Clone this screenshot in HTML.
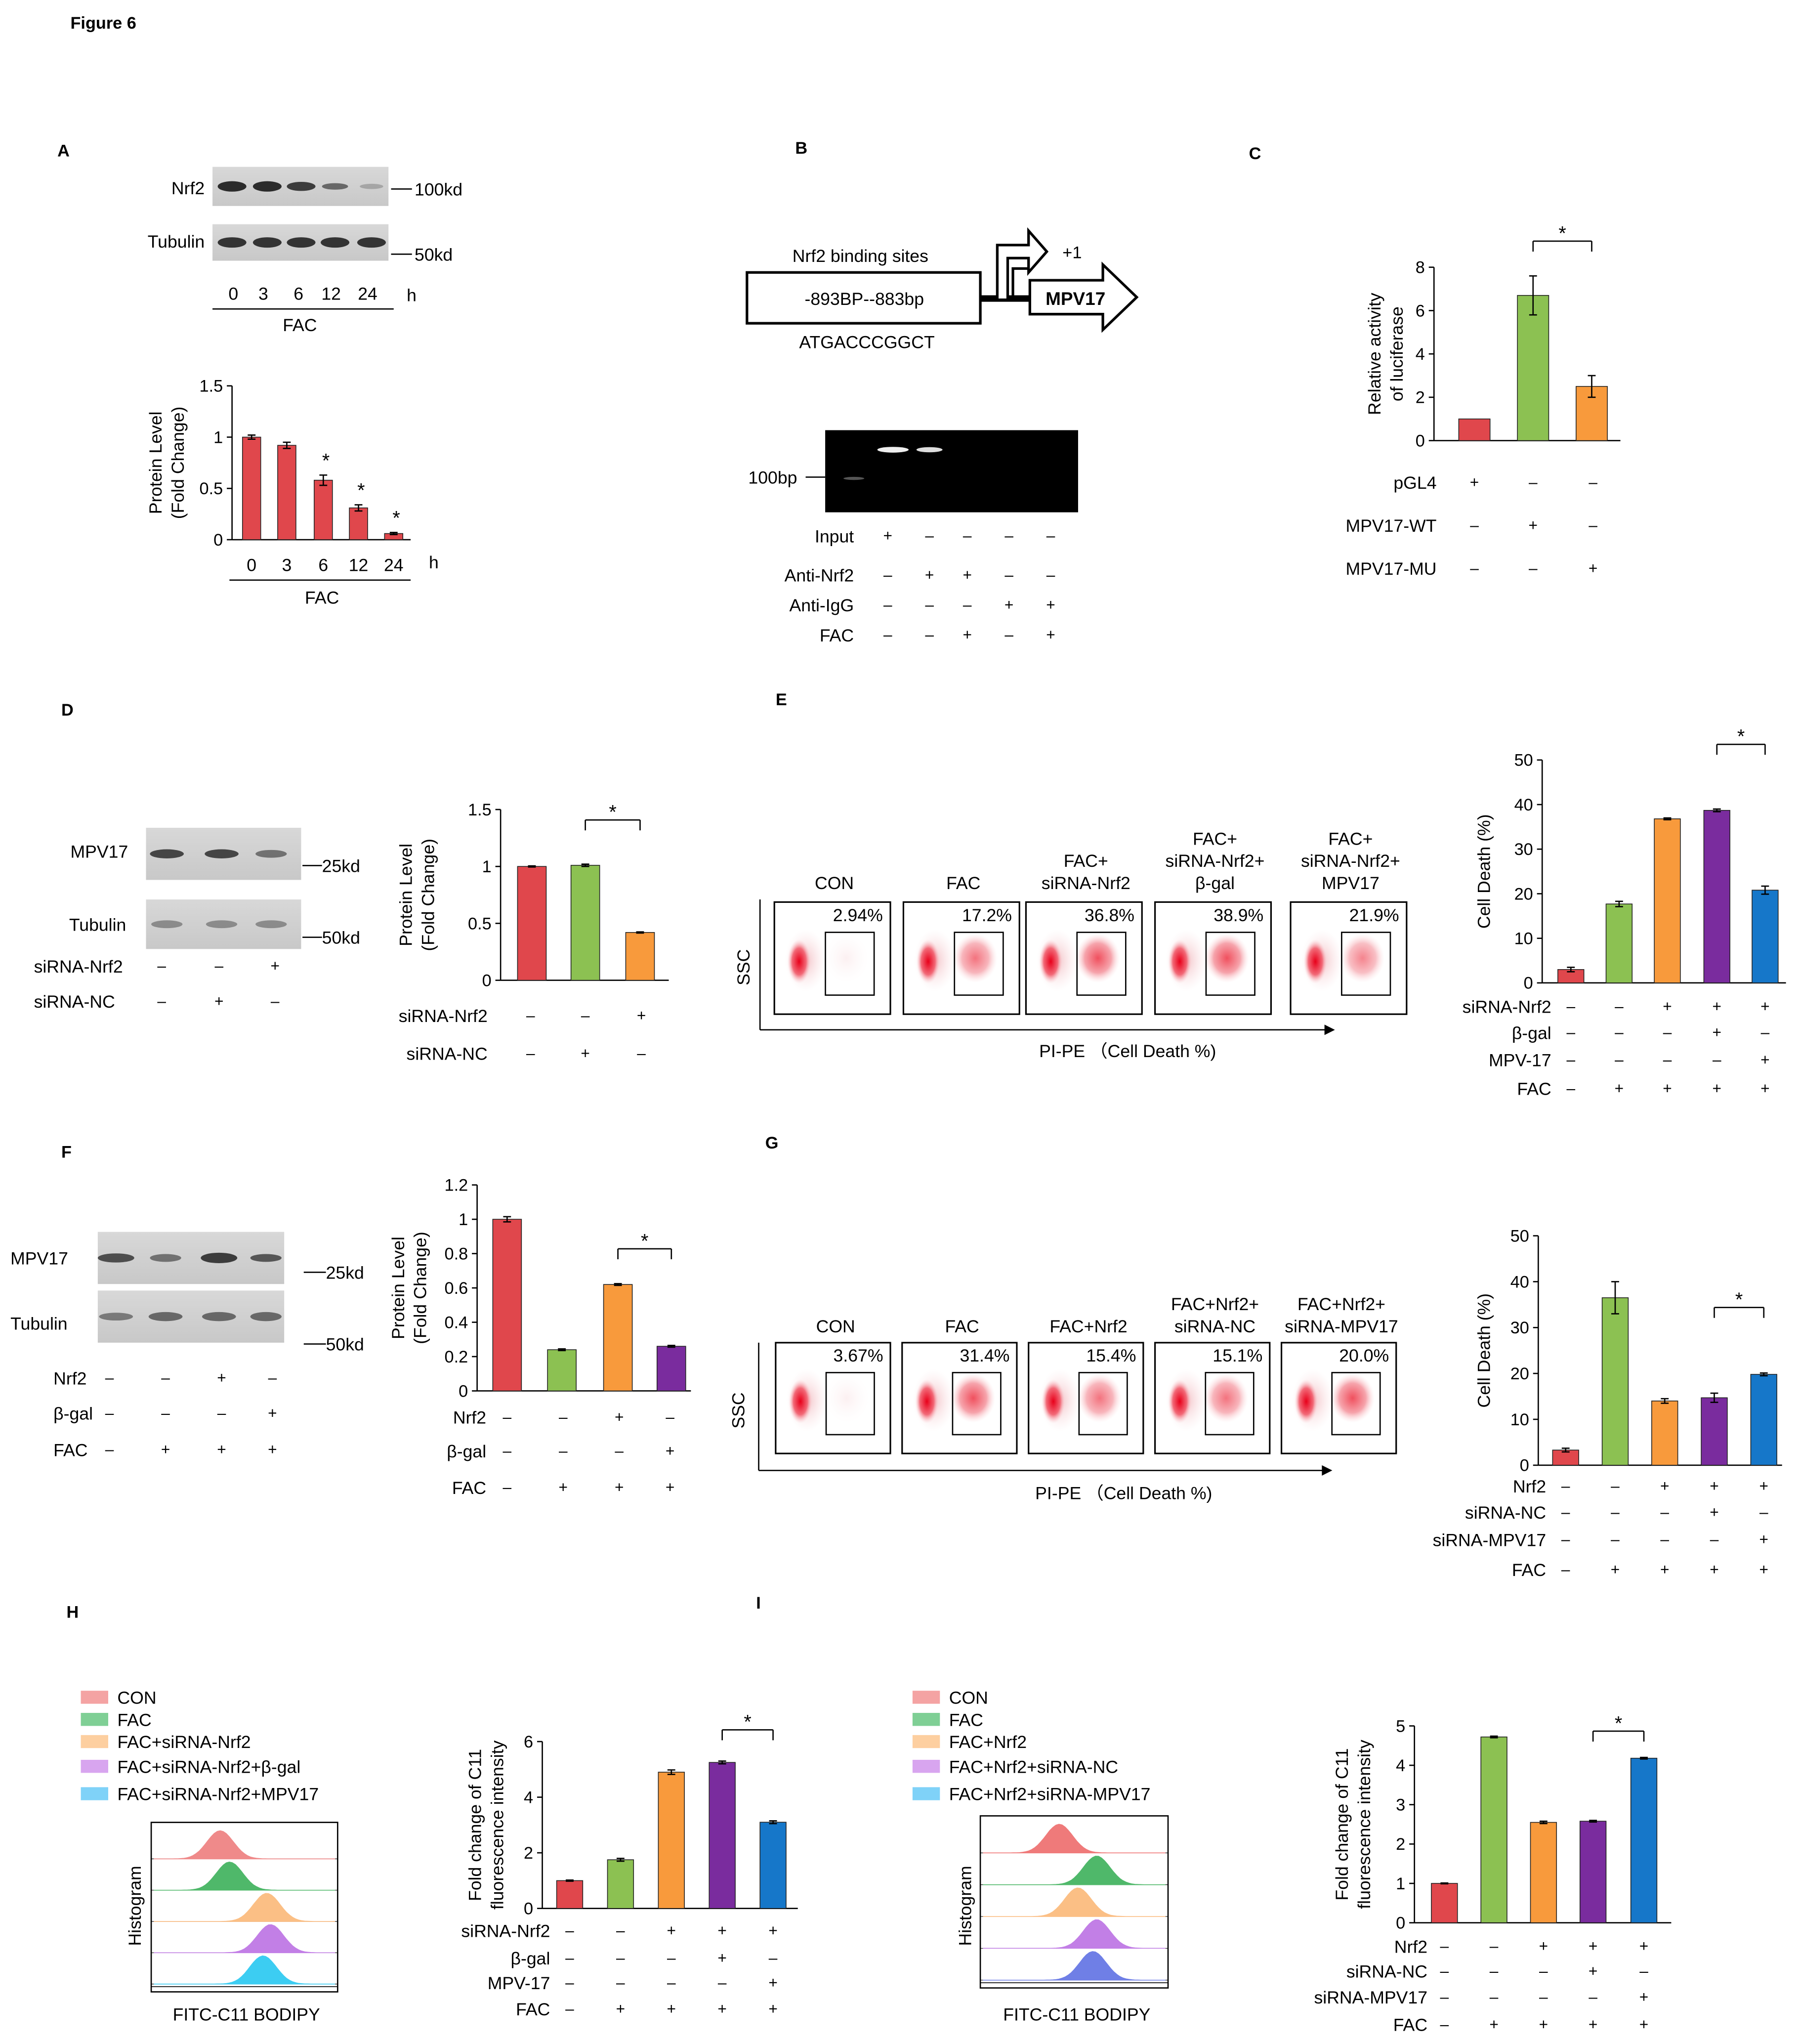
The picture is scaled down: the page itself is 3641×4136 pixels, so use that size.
<!DOCTYPE html>
<html><head><meta charset="utf-8"><style>
html,body{margin:0;padding:0;background:#fff}
svg{display:block}
text{font-family:"Liberation Sans",Arial,sans-serif;fill:#000}
</style></head><body>
<svg id="fig" xmlns="http://www.w3.org/2000/svg" width="3641" height="4136" viewBox="0 0 1380 1568" preserveAspectRatio="none">
<defs>
<radialGradient id="rg1"><stop offset="0" stop-color="#e8001a"/><stop offset="0.6" stop-color="#f26a78"/><stop offset="1" stop-color="#fbd6da" stop-opacity="0"/></radialGradient>
<radialGradient id="rg2"><stop offset="0" stop-color="#f0505e"/><stop offset="0.6" stop-color="#f6a4ac"/><stop offset="1" stop-color="#fde4e6" stop-opacity="0"/></radialGradient>
<radialGradient id="rg3"><stop offset="0" stop-color="#f3c2c7"/><stop offset="1" stop-color="#fbe6e8" stop-opacity="0"/></radialGradient>
<linearGradient id="blot" x1="0" y1="0" x2="0" y2="1"><stop offset="0" stop-color="#d8d8d8"/><stop offset="1" stop-color="#c8c8c8"/></linearGradient>
</defs>
<g id="root"></g>
</svg>
<script>
// ---------- data ----------
const aLabels=["0","3","6","12","24"];
const aValues=[1.0,0.92,0.58,0.31,0.06];
const aErrors=[0.02,0.03,0.05,0.03,0.01];
const aTicks=[0,0.5,1,1.5];
const aStars=[false,false,true,true,true];
const cValues=[1,6.7,2.5];
const cErrors=[0,0.9,0.5];
const cTicks=[0,2,4,6,8];
const dValues=[1.0,1.01,0.42];
const dErrors=[0.005,0.01,0.005];
const dTicks=[0,0.5,1,1.5];
const eValues=[3,17.7,36.8,38.7,20.8];
const eErrors=[0.5,0.6,0.2,0.3,0.9];
const eTicks=[0,10,20,30,40,50];
const ePercents=["2.94%","17.2%","36.8%","38.9%","21.9%"];
const fValues=[1.0,0.24,0.62,0.26];
const fErrors=[0.015,0.005,0.005,0.005];
const fTicks=[0,0.2,0.4,0.6,0.8,1,1.2];
const gValues=[3.3,36.5,14,14.7,19.8];
const gErrors=[0.4,3.5,0.5,1,0.3];
const gTicks=[0,10,20,30,40,50];
const gPercents=["3.67%","31.4%","15.4%","15.1%","20.0%"];
const hValues=[1,1.75,4.9,5.25,3.1];
const hErrors=[0.02,0.05,0.08,0.05,0.05];
const hTicks=[0,2,4,6];
const iValues=[1,4.72,2.55,2.58,4.18];
const iErrors=[0.01,0.02,0.03,0.02,0.02];
const iTicks=[0,1,2,3,4,5];
const COL=["#e0474c","#8cc152","#f89a3c","#7a2c9e","#1677c9"];

const NS="http://www.w3.org/2000/svg";
const root=document.getElementById('root');
function mk(tag,attrs,name,parent){
  const el=document.createElementNS(NS,tag);
  for(const k in attrs) el.setAttribute(k,attrs[k]);
  
  
  (parent||root).appendChild(el);return el;
}
function tx(x,y,s,name,size,anchor,extra){
  const a=Object.assign({x:x,y:y,'font-size':size||13,'text-anchor':anchor||'start'},extra||{});
  const t=mk('text',a,name);t.textContent=s;return t;
}
function ln(x1,y1,x2,y2,name,w){return mk('line',{x1,y1,x2,y2,stroke:'#000','stroke-width':w||1},name);}

// ---------- generic bar chart ----------
function chart(o){
  const sy=v=>o.yBot-(v/o.max)*(o.yBot-o.yTop);
  ln(o.x0,o.yTop,o.x0,o.yBot,o.id+'-y-axis');
  ln(o.x0,o.yBot,o.xEnd,o.yBot,o.id+'-x-axis');
  o.ticks.forEach(t=>{
    ln(o.x0-4,sy(t),o.x0,sy(t),o.id+'-y-tick');
    tx(o.x0-7,sy(t)+4.5,String(t),o.id+'-y-tick-label',13,'end');
  });
  o.values.forEach((v,i)=>{
    const cx=o.centers[i];
    mk('rect',{x:cx-o.bw/2,y:sy(v),width:o.bw,height:o.yBot-sy(v),fill:o.colors[i],stroke:'#222','stroke-width':0.6},o.id+'-bar-'+i);
    const e=o.errors[i];
    if(e>0){
      ln(cx,sy(v+e),cx,sy(v-e),o.id+'-error-bar');
      ln(cx-3,sy(v+e),cx+3,sy(v+e),o.id+'-error-cap');
      ln(cx-3,sy(v-e),cx+3,sy(v-e),o.id+'-error-cap');
    }
    if(o.stars&&o.stars[i]) tx(cx+2,sy(v+e)-6,'*',o.id+'-significance-star',15,'middle');
  });
  if(o.bracket){
    const [a,b]=o.bracket;const y=o.brY;
    ln(o.centers[a],y,o.centers[b],y,o.id+'-bracket');
    ln(o.centers[a],y,o.centers[a],y+8,o.id+'-bracket');
    ln(o.centers[b],y,o.centers[b],y+8,o.id+'-bracket');
    tx((o.centers[a]+o.centers[b])/2,y-1,'*',o.id+'-significance-star',15,'middle');
  }
  const g=mk('g',{transform:'rotate(-90)'},o.id+'-y-title');
  o.ytitle.forEach((s,k)=>{
    const t=mk('text',{x:-(o.yTop+o.yBot)/2,y:o.ytx+k*17,'font-size':13.5,'text-anchor':'middle'},o.id+'-y-title-line',g);t.textContent=s;
  });
}
function signTable(id,labels,rows,ys,cols,lx,anchor){
  labels.forEach((l,r)=>{
    tx(lx,ys[r]+9,l,id+'-row-label',13.5,anchor||'end');
    rows[r].forEach((s,c)=>tx(cols[c],ys[r]+8,s==='+'?'+':'\u2013',id+'-sign',12,'middle'));
  });
}

// ---------- title ----------
tx(54,22,'Figure 6','figure-title',13,'start',{'font-weight':'bold'});
['A',44,120,'B',610,118,'C',958,122,'D',47,549,'E',595,541,'F',47,888,'G',587,881,'H',51,1241,'I',580,1234].reduce((a,v,i,arr)=>{if(i%3===0)tx(arr[i+1],arr[i+2],v,'panel-label-'+v.toLowerCase(),13,'start',{'font-weight':'bold'});return a;},0);

// ---------- blots ----------
function blot(x,y,w,h,bands,name){
  mk('rect',{x,y,width:w,height:h,fill:'url(#blot)'},name);
  bands.forEach(b=>mk('ellipse',{cx:b[0],cy:y+h/2,rx:b[1],ry:b[2],fill:'#222','fill-opacity':b[3]},name+'-band'));
}
// A
tx(157,149,'Nrf2','a-nrf2-label',13.5,'end');
blot(163,128,135,30,[[178,11,4,0.95],[205,11,4,0.95],[231,11,3.5,0.85],[257,10,2.5,0.6],[285,9,2,0.25]],'a-nrf2-blot');
tx(157,190,'Tubulin','a-tubulin-label',13.5,'end');
blot(163,172,135,28,[[178,11,4,0.9],[205,11,4,0.9],[231,11,4,0.9],[257,11,4,0.9],[285,11,4,0.9]],'a-tubulin-blot');
ln(300,145,316,145,'a-marker-line');tx(318,150,'100kd','a-100kd',13.5);
ln(300,195,316,195,'a-marker-line');tx(318,200,'50kd','a-50kd',13.5);
[179,202,229,254,282].forEach((x,i)=>tx(x,230,aLabels[i],'a-blot-time-label',13.5,'middle'));
tx(312,231,'h','a-blot-h',13.5);ln(163,237,302,237,'a-blot-fac-line');tx(230,254,'FAC','a-blot-fac',13.5,'middle');
chart({id:'a',x0:178,xEnd:315,yTop:296,yBot:414,max:1.5,ticks:aTicks,centers:[193,220,248,275,302],bw:14,values:aValues,errors:aErrors,colors:aValues.map(()=>COL[0]),stars:aStars,ytitle:['Protein Level','(Fold Change)'],ytx:124});
aLabels.forEach((s,i)=>tx([193,220,248,275,302][i],438,s,'a-x-label',13.5,'middle'));
tx(329,436,'h','a-x-h',13.5);ln(176,445,315,445,'a-fac-line');tx(247,463,'FAC','a-fac',13.5,'middle');

// ---------- B ----------
tx(660,201,'Nrf2 binding sites','b-binding-label',13.5,'middle');
mk('rect',{x:573,y:209,width:179,height:39,fill:'#fff',stroke:'#000','stroke-width':2},'b-binding-box');
tx(663,234,'-893BP--883bp','b-site-text',13.5,'middle');
tx(665,267,'ATGACCCGGCT','b-sequence',13.5,'middle');
mk('line',{x1:752,y1:229,x2:791,y2:229,stroke:'#000','stroke-width':5},'b-promoter-line');
mk('path',{d:'M765 229 V188 H789 V177 L803 193 L789 209 V198 H773 V229',fill:'#fff',stroke:'#000','stroke-width':2},'b-tss-arrow');
mk('path',{d:'M777 229 V206 H789',fill:'none',stroke:'#000','stroke-width':2},'b-tss-arrow-inner');
tx(815,198,'+1','b-plus1',13);
mk('polygon',{points:'790,215 846,215 846,203 872,228 846,253 846,241 790,241',fill:'#fff',stroke:'#000','stroke-width':2},'b-mpv17-arrow');
tx(825,234,'MPV17','b-mpv17-text',14,'middle',{'font-weight':'bold'});
mk('rect',{x:633,y:330,width:194,height:63,fill:'#000'},'b-gel');
mk('ellipse',{cx:685,cy:345,rx:12,ry:2.2,fill:'#eee'},'b-gel-band');
mk('ellipse',{cx:713,cy:345,rx:10,ry:2,fill:'#ddd'},'b-gel-band');
mk('ellipse',{cx:655,cy:367,rx:8,ry:1.2,fill:'#555'},'b-gel-ladder');
tx(574,371,'100bp','b-100bp',13.5);ln(618,366,633,366,'b-100bp-line');
signTable('b',['Input','Anti-Nrf2','Anti-IgG','FAC'],[['+','-','-','-','-'],['-','+','+','-','-'],['-','-','-','+','+'],['-','-','+','-','+']],[407,437,460,483],[681,713,742,774,806],655);

// ---------- C ----------
chart({id:'c',x0:1100,xEnd:1243,yTop:205,yBot:338,max:8,ticks:cTicks,centers:[1131,1176,1221],bw:24,values:cValues,errors:cErrors,colors:[COL[0],COL[1],COL[2]],bracket:[1,2],brY:185,ytitle:['Relative activity','of luciferase'],ytx:1059});
signTable('c',['pGL4','MPV17-WT','MPV17-MU'],[['+','-','-'],['-','+','-'],['-','-','+']],[366,399,432],[1131,1176,1222],1102);

// ---------- D ----------
tx(54,658,'MPV17','d-mpv17-label',13.5);
blot(112,635,119,40,[[128,13,3.5,0.8],[170,13,3.5,0.8],[208,12,3,0.55]],'d-mpv17-blot');
tx(53,714,'Tubulin','d-tubulin-label',13.5);
blot(112,690,119,38,[[128,12,3,0.4],[170,12,3,0.4],[208,12,3,0.4]],'d-tubulin-blot');
ln(232,664,247,664,'d-marker-line');tx(247,669,'25kd','d-25kd',13.5);
ln(232,719,247,719,'d-marker-line');tx(247,724,'50kd','d-50kd',13.5);
signTable('d-blot',['siRNA-Nrf2','siRNA-NC'],[['-','-','+'],['-','+','-']],[737,764],[124,168,211],26,'start');
chart({id:'d',x0:384,xEnd:513,yTop:621,yBot:752,max:1.5,ticks:dTicks,centers:[408,449,491],bw:22,values:dValues,errors:dErrors,colors:[COL[0],COL[1],COL[2]],bracket:[1,2],brY:629,ytitle:['Protein Level','(Fold Change)'],ytx:316});
signTable('d',['siRNA-Nrf2','siRNA-NC'],[['-','-','+'],['-','+','-']],[775,804],[407,449,492],374);

// ---------- flow plots ----------
function flow(id,x,y,w,h,pct,k){
  mk('rect',{x,y,width:w,height:h,fill:'#fff',stroke:'#000','stroke-width':1.2},id+'-plot');
  mk('ellipse',{cx:x+24,cy:y+h*0.52,rx:16,ry:24,fill:'url(#rg3)'},id+'-density');
  mk('ellipse',{cx:x+19,cy:y+h*0.53,rx:9,ry:17,fill:'url(#rg1)'},id+'-density-main');
  const s=[0.25,0.8,1,1,0.7][k];
  mk('ellipse',{cx:x+w*0.62,cy:y+h*0.5,rx:17,ry:19,fill:k===0?'url(#rg3)':'url(#rg2)','fill-opacity':s},id+'-density-dead');
  mk('rect',{x:x+w*0.44,y:y+h*0.27,width:w*0.42,height:h*0.56,fill:'none',stroke:'#000','stroke-width':1},id+'-gate');
  tx(x+w*0.72,y+h*0.17,pct,id+'-percent',13.5,'middle');
}
const eX=[594,693,787,886,990];
eX.forEach((x,i)=>flow('e-'+i,x,692,89,86,ePercents[i],i));
[['CON'],['FAC'],['FAC+','siRNA-Nrf2'],['FAC+','siRNA-Nrf2+','β-gal'],['FAC+','siRNA-Nrf2+','MPV17']].forEach((L,i)=>L.forEach((s,j)=>tx(eX[i]+46,682-(L.length-1-j)*17,s,'e-group-label',13.5,'middle')));
ln(583,690,583,790,'e-ssc-axis');ln(583,790,1020,790,'e-pipe-axis');
mk('polygon',{points:'1024,790 1016,786 1016,794',fill:'#000'},'e-axis-arrow');
tx(575,742,'SSC','e-ssc',13.5,'middle',{transform:'rotate(-90 575 742)'});
tx(865,811,'PI-PE （Cell Death %)','e-pipe-label',13.5,'middle',{'font-family':'"Liberation Sans","Noto Sans CJK SC",sans-serif'});
chart({id:'e',x0:1183,xEnd:1370,yTop:583,yBot:754,max:50,ticks:eTicks,centers:[1205,1242,1279,1317,1354],bw:20,values:eValues,errors:eErrors,colors:COL,bracket:[3,4],brY:571,ytitle:['Cell Death (%)'],ytx:1143});
signTable('e',['siRNA-Nrf2','β-gal','MPV-17','FAC'],[['-','-','+','+','+'],['-','-','-','+','-'],['-','-','-','-','+'],['-','+','+','+','+']],[768,788,809,831],[1205,1242,1279,1317,1354],1190);

// ---------- F ----------
tx(8,970,'MPV17','f-mpv17-label',13.5);
blot(75,945,143,40,[[89,14,3.5,0.75],[127,12,3,0.55],[168,14,4,0.85],[204,12,3,0.7]],'f-mpv17-blot');
tx(8,1020,'Tubulin','f-tubulin-label',13.5);
blot(75,990,143,40,[[89,13,3,0.5],[127,13,3.5,0.6],[168,13,3.5,0.6],[204,12,3.5,0.6]],'f-tubulin-blot');
ln(233,976,250,976,'f-marker-line');tx(250,981,'25kd','f-25kd',13.5);
ln(233,1031,250,1031,'f-marker-line');tx(250,1036,'50kd','f-50kd',13.5);
signTable('f-blot',['Nrf2','β-gal','FAC'],[['-','-','+','-'],['-','-','-','+'],['-','+','+','+']],[1053,1080,1108],[84,127,170,209],41,'start');
chart({id:'f',x0:366,xEnd:530,yTop:909,yBot:1067,max:1.2,ticks:fTicks,centers:[389,431,474,515],bw:22,values:fValues,errors:fErrors,colors:[COL[0],COL[1],COL[2],COL[3]],bracket:[2,3],brY:958,ytitle:['Protein Level','(Fold Change)'],ytx:310});
signTable('f',['Nrf2','β-gal','FAC'],[['-','-','+','-'],['-','-','-','+'],['-','+','+','+']],[1083,1109,1137],[389,432,475,514],373);

// ---------- G ----------
const gX=[595,692,789,886,983];
gX.forEach((x,i)=>flow('g-'+i,x,1030,88,85,gPercents[i],[0,3,1,1,2][i]));
[['CON'],['FAC'],['FAC+Nrf2'],['FAC+Nrf2+','siRNA-NC'],['FAC+Nrf2+','siRNA-MPV17']].forEach((L,i)=>L.forEach((s,j)=>tx(gX[i]+46,1022-(L.length-1-j)*17,s,'g-group-label',13.5,'middle')));
ln(582,1030,582,1128,'g-ssc-axis');ln(582,1128,1018,1128,'g-pipe-axis');
mk('polygon',{points:'1022,1128 1014,1124 1014,1132',fill:'#000'},'g-axis-arrow');
tx(571,1082,'SSC','g-ssc',13.5,'middle',{transform:'rotate(-90 571 1082)'});
tx(862,1150,'PI-PE （Cell Death %)','g-pipe-label',13.5,'middle',{'font-family':'"Liberation Sans","Noto Sans CJK SC",sans-serif'});
chart({id:'g',x0:1180,xEnd:1367,yTop:948,yBot:1124,max:50,ticks:gTicks,centers:[1201,1239,1277,1315,1353],bw:20,values:gValues,errors:gErrors,colors:COL,bracket:[3,4],brY:1003,ytitle:['Cell Death (%)'],ytx:1143});
signTable('g',['Nrf2','siRNA-NC','siRNA-MPV17','FAC'],[['-','-','+','+','+'],['-','-','-','+','-'],['-','-','-','-','+'],['-','+','+','+','+']],[1136,1156,1177,1200],[1201,1239,1277,1315,1353],1186);

// ---------- histograms ----------
const LC=['#f4a3a3','#7fcf95','#fdcfa0','#d8a5ef','#7fd2f8'];
const HC=['#ef8a8a','#4fb86a','#fbbf85','#c27fe6','#3ccdf2'];
function legend(id,x,y0,labels){
  [0,17,34,53,74].forEach((d,i)=>{
    mk('rect',{x:x,y:y0+d-9,width:21,height:10,fill:LC[i]},id+'-legend-swatch');
    tx(x+28,y0+d+1,labels[i],id+'-legend-entry',13.5);
  });
}
function hist(id,x,y,w,h,peaks,cols){
  mk('rect',{x,y,width:w,height:h,fill:'#fff',stroke:'#000','stroke-width':1},id+'-histogram-box');
  const rh=(h-10)/5;
  peaks.forEach((p,i)=>{
    const base=y+4+rh*(i+1);
    ln(x,base,x+w,base,id+'-histogram-baseline',0.4);
    let d='M'+(x+2)+' '+base;
    for(let k=0;k<=60;k++){const xx=x+2+k*(w-4)/60;const z=(xx-(x+p*w))/(w*0.1);d+=' L'+xx.toFixed(1)+' '+(base-(rh*0.9)*Math.exp(-z*z)).toFixed(1);}
    d+=' L'+(x+w-2)+' '+base+'Z';
    mk('path',{d,fill:cols[i],stroke:cols[i],'stroke-width':0.6},id+'-histogram-'+i);
  });
  ln(x,y+h-4,x+w,y+h-4,id+'-histogram-x-axis',0.6);
}
legend('h',62,1306,['CON','FAC','FAC+siRNA-Nrf2','FAC+siRNA-Nrf2+β-gal','FAC+siRNA-Nrf2+MPV17']);
hist('h',116,1398,143,130,[0.37,0.42,0.62,0.64,0.6],HC);
tx(108,1462,'Histogram','h-histogram-label',13.5,'middle',{transform:'rotate(-90 108 1462)'});
tx(189,1550,'FITC-C11 BODIPY','h-x-label',13.5,'middle');
chart({id:'h',x0:416,xEnd:612,yTop:1336,yBot:1464,max:6,ticks:hTicks,centers:[437,476,515,554,593],bw:20,values:hValues,errors:hErrors,colors:COL,bracket:[3,4],brY:1327,ytitle:['Fold change of C11','fluorescence intensity'],ytx:369});
signTable('h',['siRNA-Nrf2','β-gal','MPV-17','FAC'],[['-','-','+','+','+'],['-','-','-','+','-'],['-','-','-','-','+'],['-','+','+','+','+']],[1477,1498,1517,1537],[437,476,515,554,593],422);

legend('i',700,1306,['CON','FAC','FAC+Nrf2','FAC+Nrf2+siRNA-NC','FAC+Nrf2+siRNA-MPV17']);
hist('i',752,1393,144,132,[0.42,0.62,0.52,0.62,0.6],['#ef7a7a','#4fb86a','#fbbf85','#c27fe6','#6f7fe6']);
tx(745,1462,'Histogram','i-histogram-label',13.5,'middle',{transform:'rotate(-90 745 1462)'});
tx(826,1550,'FITC-C11 BODIPY','i-x-label',13.5,'middle');
chart({id:'i',x0:1085,xEnd:1282,yTop:1324,yBot:1475,max:5,ticks:iTicks,centers:[1108,1146,1184,1222,1261],bw:20,values:iValues,errors:iErrors,colors:COL,bracket:[3,4],brY:1328,ytitle:['Fold change of C11','fluorescence intensity'],ytx:1034});
signTable('i',['Nrf2','siRNA-NC','siRNA-MPV17','FAC'],[['-','-','+','+','+'],['-','-','-','+','-'],['-','-','-','-','+'],['-','+','+','+','+']],[1489,1508,1528,1549],[1108,1146,1184,1222,1261],1095);
</script>
</body></html>
